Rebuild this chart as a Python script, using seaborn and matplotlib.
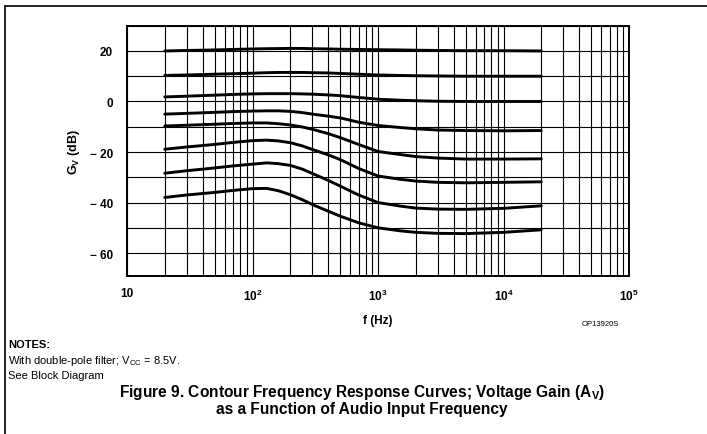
import numpy as np
import pandas as pd
import seaborn as sns
import matplotlib.pyplot as plt
from matplotlib.ticker import LogLocator, NullFormatter, FixedLocator
from matplotlib.lines import Line2D

freq = [20, 30, 50, 70, 100, 130, 160, 200, 250, 300, 400, 500, 700, 1000, 1500, 2000, 3000, 5000, 10000, 20000]

# gain in dB, one list per contour curve (top to bottom)
c1 = [20, 20.2, 20.4, 20.6, 20.8, 20.9, 20.95, 21, 21, 20.9, 20.8, 20.7, 20.6, 20.5, 20.4, 20.3, 20.2, 20.1, 20.1, 20]
c2 = [10.3, 10.5, 10.8, 11, 11.2, 11.4, 11.5, 11.5, 11.5, 11.4, 11.3, 11.1, 10.8, 10.5, 10.3, 10.2, 10.1, 10, 10, 10]
c3 = [1.8, 2.1, 2.5, 2.8, 3, 3.1, 3.1, 3.1, 3.0, 2.9, 2.6, 2.3, 1.6, 0.9, 0.5, 0.3, 0.1, 0, 0, 0]
c4 = [-5, -4.7, -4.3, -4, -3.8, -3.7, -3.7, -3.9, -4.4, -5, -5.8, -6.5, -8.2, -9.5, -10.3, -10.8, -11.3, -11.5, -11.6, -11.5]
c5 = [-9.7, -9.4, -9, -8.7, -8.5, -8.5, -8.8, -9.3, -10.1, -11, -12.7, -14.3, -17, -19.8, -21, -21.8, -22.4, -22.8, -22.8, -22.7]
c6 = [-18.9, -18, -17, -16.2, -15.5, -15.3, -15.6, -16.3, -17.6, -19, -21.1, -23, -26.5, -29.5, -30.8, -31.5, -32, -32.2, -32, -31.8]
c7 = [-28.4, -27.4, -26.3, -25.5, -24.8, -24.3, -24.6, -25.3, -26.8, -28.5, -31.2, -33.5, -37, -40, -41.4, -42.2, -42.6, -42.7, -42.3, -41.3]
c8 = [-38, -37, -36, -35.2, -34.5, -34.4, -35.3, -36.9, -38.9, -40.8, -43.4, -45.4, -48, -50, -51.2, -51.8, -52.2, -52.3, -51.8, -50.8]

curves = {"c1": c1, "c2": c2, "c3": c3, "c4": c4, "c5": c5, "c6": c6, "c7": c7, "c8": c8}

x_ticks = [10, 100, 1000, 10000, 100000]
x_labels = ["10", "10$^2$", "10$^3$", "10$^4$", "10$^5$"]
y_ticks = [20, 0, -20, -40, -60]
y_labels = ["20", "0", "\u2212 20", "\u2212 40", "\u2212 60"]

# long table for seaborn
rows = []
for name, vals in curves.items():
    for f, g in zip(freq, vals):
        rows.append({"curve": name, "f": f, "gain": g})
df = pd.DataFrame(rows)

sns.set_style("white")
plt.rcParams["font.family"] = ["Liberation Sans", "DejaVu Sans"]
plt.rcParams["mathtext.default"] = "regular"
plt.rcParams["text.color"] = "black"
plt.rcParams["axes.labelcolor"] = "black"
plt.rcParams["xtick.color"] = "black"
plt.rcParams["ytick.color"] = "black"

fig = plt.figure(figsize=(7.07, 4.35), dpi=100)
ax = fig.add_axes([127 / 707, 1 - 277.3 / 435, 502 / 707, 250.6 / 435])

sns.lineplot(data=df, x="f", y="gain", hue="curve", palette=["black"] * 8,
             linewidth=2.1, legend=False, ax=ax, sort=False)

ax.set_xscale("log")
ax.set_xlim(10, 100000)
ax.set_ylim(-69.2, 30)

ax.xaxis.set_major_locator(FixedLocator(x_ticks))
ax.xaxis.set_minor_locator(LogLocator(base=10, subs=np.arange(2, 10)))
ax.xaxis.set_minor_formatter(NullFormatter())
ax.set_xticks(x_ticks, x_labels)
ax.set_yticks(y_ticks, y_labels)
ax.yaxis.set_minor_locator(FixedLocator(np.arange(-60, 31, 10)))

for lab in ax.get_xticklabels() + ax.get_yticklabels():
    lab.set_fontweight("bold")
    lab.set_fontsize(8.5)
    lab.set_color("black")

ax.tick_params(which="both", length=0)
ax.tick_params(axis="x", pad=8)
ax.tick_params(axis="y", pad=10)
ax.grid(True, which="both", color="black", linewidth=0.8)
for s in ax.spines.values():
    s.set_color("black")
    s.set_linewidth(1.4)

ax.set_xlabel("f (Hz)", fontsize=8.5, fontweight="bold", labelpad=8)
ax.set_ylabel("G$_V$ (dB)", fontsize=9, fontweight="bold", labelpad=6)

# notes and caption
fig.text(600 / 707, 1 - 325 / 435, "OP13920S", fontsize=5.5, ha="center", va="center")
fig.text(8 / 707, 1 - 345 / 435, "NOTES:", fontsize=8, fontweight="bold", va="center")
fig.text(8 / 707, 1 - 361 / 435, "With double-pole filter; V$_{CC}$ = 8.5V.", fontsize=8, va="center")
fig.text(8 / 707, 1 - 376 / 435, "See Block Diagram", fontsize=8, va="center")
fig.text(362 / 707, 1 - 400 / 435,
         "Figure 9. Contour Frequency Response Curves; Voltage Gain (A$_V$)\n"
         "as a Function of Audio Input Frequency",
         fontsize=11.2, fontweight="bold", ha="center", va="center",
         multialignment="center", linespacing=1.05)

# page frame (left and top edges)
fig.add_artist(Line2D([5 / 707, 5 / 707], [0, 1 - 7 / 435], color="black", linewidth=1.2))
fig.add_artist(Line2D([5 / 707, 1], [1 - 7 / 435, 1 - 7 / 435], color="black", linewidth=1.2))

fig.savefig("out.png", dpi=100)
